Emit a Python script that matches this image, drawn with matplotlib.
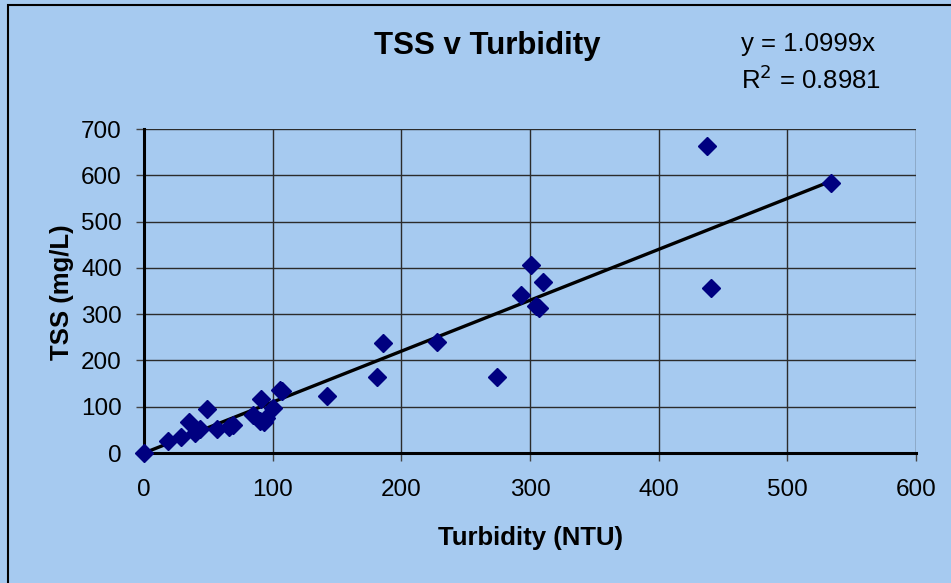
import matplotlib
matplotlib.use("Agg")
import matplotlib.pyplot as plt
from matplotlib.patches import Rectangle
import numpy as np

plt.rcParams['font.family'] = ['Liberation Sans', 'DejaVu Sans']

turbidity = [0, 18.9, 28.5, 34.7, 39.9, 43.8, 48.7, 56.9, 66, 69, 84.9, 90.8, 90, 93, 95.2,
             100.5, 105.7, 107, 142, 180.7, 185.4, 227.4, 274, 292.8, 300.5, 305, 307, 309.8,
             437.6, 440.7, 534]
tss = [0, 26, 34, 68, 42.5, 52.5, 94, 52.5, 57, 60, 83, 116, 70, 67, 75,
       96.5, 136, 133, 124, 163.5, 237, 240.5, 163.5, 340.5, 405.5, 318, 313, 370,
       664, 357, 582.6]
slope = 1.0999
eq_text = "y = 1.0999x"
r2_text = "R$^2$ = 0.8981"
x_ticks = [0, 100, 200, 300, 400, 500, 600]
y_ticks = [0, 100, 200, 300, 400, 500, 600, 700]

W, H = 951, 583
bg = '#A6CAF0'
fig = plt.figure(figsize=(W/100, H/100), dpi=100, facecolor=bg)
ax = fig.add_axes([144/W, 1-453/H, (916-144)/W, (453-129)/H])
ax.set_facecolor(bg)

ax.set_xlim(0, 600)
ax.set_ylim(0, 700)
ax.set_xticks(x_ticks)
ax.set_yticks(y_ticks)
ax.grid(True, color='#2b2b2b', linewidth=1.0)
ax.set_axisbelow(True)
for s in ['top', 'right']:
    ax.spines[s].set_visible(False)
for s in ['left', 'bottom']:
    ax.spines[s].set_linewidth(2.2)
    ax.spines[s].set_color('black')
ax.tick_params(direction='out', length=6, width=1, color='#444444', labelsize=17.5)
ax.tick_params(axis='y', pad=10)
ax.tick_params(axis='x', pad=13)

xs = np.array([0, max(turbidity)])
ax.plot(xs, slope*xs, color='black', linewidth=2.4, zorder=3, clip_on=False)
ax.plot(turbidity, tss, linestyle='none', marker='D', markersize=9,
        color='#000080', zorder=4, clip_on=False)

ax.set_xlabel('Turbidity (NTU)', fontsize=18.5, fontweight='bold')
ax.set_ylabel('TSS (mg/L)', fontsize=18.5, fontweight='bold')
ax.xaxis.set_label_coords(0.5, -(538-453)/(453-129))
ax.yaxis.set_label_coords(-(144-62)/(916-144), 1 - (292-129)/(453-129))
ax.xaxis.label.set_va('center')
ax.yaxis.label.set_va('center')

fig.text(487/W, 1-46/H, 'TSS v Turbidity', fontsize=22.5, fontweight='bold',
         ha='center', va='center')
fig.text(741/W, 1-44/H, eq_text, fontsize=18.5, ha='left', va='center')
fig.text(741/W, 1-80/H, r2_text, fontsize=18.5, ha='left', va='center')

fig.patches.append(Rectangle((8/W, -0.01), 1.0, 1-5/H+0.01, transform=fig.transFigure,
                             fill=False, edgecolor='black', linewidth=1.5))

fig.savefig('out.png', dpi=100, facecolor=bg)
